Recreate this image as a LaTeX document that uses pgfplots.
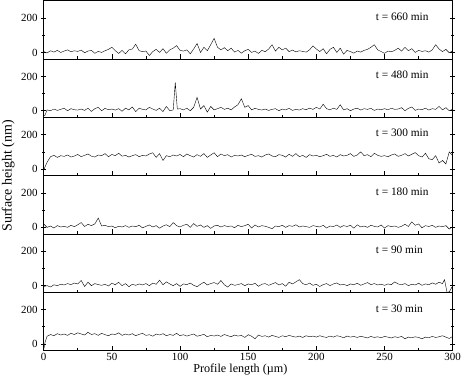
\documentclass[border=0pt]{standalone}
\usepackage{fontspec}
\setmainfont{Liberation Serif}
\usepackage{pgfplots}
\pgfplotsset{compat=1.18}
\usepgfplotslibrary{groupplots}
\usetikzlibrary{calc}
\tikzset{tlabel/.style={anchor=west, font=\fontsize{11.4}{12}\selectfont}}

\begin{document}
\begin{tikzpicture}
\begin{groupplot}[
  group style={group size=1 by 6, vertical sep=0pt, xticklabels at=edge bottom},
  width=409bp, height=58.3bp, scale only axis,
  xmin=0, xmax=300, ymin=-40, ymax=300,
  xtick={0,50,...,300}, minor xtick={25,75,...,275},
  ytick={0,200}, minor ytick={100},
  xtick pos=left, ytick pos=both, yticklabel pos=left,
  xtick align=inside, ytick align=center,
  major tick length=5bp, minor tick length=3bp,
  axis line style={line width=1bp},
  every tick/.style={line width=0.7bp, black},
  tick label style={font=\fontsize{11}{12}\selectfont},
  xticklabel style={yshift=1.5bp},
  /pgf/number format/assume math mode=true,
  cycle list={{black, line width=0.6bp, mark=none}},
]
% t = 660 min
\nextgroupplot
\addplot coordinates {(0,5)(2.5,-3)(5,10)(7.5,2)(10,12)(12.5,0)(15,8)(17.5,15)(20,4)(22.5,10)(25,6)(27.5,14)(30,-2)(32.5,8)(35,12)(37.5,-5)(40,6)(42.5,0)(45,10)(47.5,18)(50,30)(52.5,10)(55,-6)(57.5,12)(60,-8)(62.5,15)(65,20)(67.5,48)(70,10)(72.5,5)(75,8)(77.5,-18)(80,5)(82.5,18)(85,0)(87.5,22)(90,-5)(92.5,15)(95,25)(97.5,40)(100,12)(102.5,8)(105,15)(107.5,-8)(110,20)(112.5,52)(115,0)(117.5,30)(120,10)(122.5,45)(125,82)(127.5,30)(130,15)(132.5,28)(135,10)(137.5,25)(140,2)(142.5,12)(145,-4)(147.5,10)(150,18)(152.5,0)(155,8)(157.5,-6)(160,12)(162.5,4)(165,20)(167.5,45)(170,8)(172.5,30)(175,15)(177.5,25)(180,5)(182.5,14)(185,3)(187.5,10)(190,6)(192.5,2)(195,15)(197.5,38)(200,20)(202.5,5)(205,22)(207.5,-8)(210,18)(212.5,30)(215,0)(217.5,25)(220,-10)(222.5,12)(225,5)(227.5,-4)(230,8)(232.5,2)(235,12)(237.5,18)(240,30)(242.5,45)(245,15)(247.5,5)(250,-5)(252.5,8)(255,4)(257.5,12)(260,25)(262.5,8)(265,30)(267.5,10)(270,22)(272.5,0)(275,12)(277.5,6)(280,10)(282.5,2)(285,15)(287.5,45)(290,20)(292.5,5)(295,18)(297.5,-2)(300,10)};
\node[tlabel] at (241,208) {t = 660 min};
% t = 480 min
\nextgroupplot
\addplot coordinates {(0,-30)(1,-25)(2.5,5)(5,0)(7.5,10)(10,2)(12.5,8)(15,15)(17.5,0)(20,12)(22.5,6)(25,4)(27.5,10)(30,2)(32.5,15)(35,-4)(37.5,12)(40,20)(42.5,0)(45,14)(47.5,6)(50,10)(52.5,4)(55,12)(57.5,-3)(60,15)(62.5,5)(65,22)(67.5,-5)(70,15)(72.5,8)(75,5)(77.5,20)(80,10)(82.5,2)(85,15)(87.5,-5)(90,25)(92.5,0)(95,5)(96.5,165)(98,10)(100,12)(102.5,5)(105,15)(107.5,0)(110,20)(112.5,78)(115,10)(117.5,30)(120,-8)(122.5,25)(125,5)(127.5,12)(130,20)(132.5,8)(135,15)(137.5,5)(140,22)(142.5,35)(145,70)(147.5,20)(150,30)(152.5,5)(155,14)(157.5,8)(160,4)(162.5,10)(165,2)(167.5,8)(170,12)(172.5,0)(175,10)(177.5,5)(180,14)(182.5,2)(185,8)(187.5,4)(190,12)(192.5,6)(195,15)(197.5,8)(200,20)(202.5,10)(205,38)(207.5,12)(210,5)(212.5,15)(215,8)(217.5,35)(220,5)(222.5,12)(225,0)(227.5,10)(230,15)(232.5,4)(235,12)(237.5,8)(240,14)(242.5,2)(245,10)(247.5,6)(250,12)(252.5,5)(255,15)(257.5,8)(260,10)(262.5,18)(265,0)(267.5,14)(270,22)(272.5,2)(275,10)(277.5,6)(280,15)(282.5,4)(285,12)(287.5,8)(290,25)(292.5,5)(295,18)(297.5,0)(300,10)};
\node[tlabel] at (241,212) {t = 480 min};
% t = 300 min
\nextgroupplot
\addplot coordinates {(0,-5)(2.5,40)(5,72)(7.5,80)(10,68)(12.5,78)(15,74)(17.5,82)(20,70)(22.5,76)(25,85)(27.5,72)(30,80)(32.5,88)(35,75)(37.5,70)(40,82)(42.5,78)(45,90)(47.5,72)(50,85)(52.5,78)(55,92)(57.5,75)(60,80)(62.5,70)(65,78)(67.5,84)(70,72)(72.5,80)(75,76)(77.5,88)(80,95)(82.5,68)(85,90)(87.5,50)(90,78)(92.5,72)(95,82)(97.5,76)(100,85)(102.5,72)(105,88)(107.5,78)(110,70)(112.5,84)(115,74)(117.5,90)(120,68)(122.5,82)(125,95)(127.5,72)(130,88)(132.5,78)(135,84)(137.5,70)(140,80)(142.5,76)(145,82)(147.5,72)(150,80)(152.5,86)(155,74)(157.5,78)(160,70)(162.5,82)(165,88)(167.5,76)(170,72)(172.5,84)(175,80)(177.5,70)(180,86)(182.5,74)(185,90)(187.5,72)(190,80)(192.5,68)(195,84)(197.5,76)(200,80)(202.5,72)(205,78)(207.5,86)(210,74)(212.5,80)(215,70)(217.5,84)(220,76)(222.5,80)(225,90)(227.5,74)(230,82)(232.5,100)(235,78)(237.5,84)(240,72)(242.5,92)(245,80)(247.5,74)(250,78)(252.5,72)(255,82)(257.5,88)(260,74)(262.5,80)(265,90)(267.5,76)(270,86)(272.5,96)(275,78)(277.5,70)(280,92)(282.5,60)(285,55)(287.5,78)(290,35)(292.5,50)(295,30)(297.5,100)(300,78)};
\node[tlabel] at (241,212) {t = 300 min};
% t = 180 min
\nextgroupplot
\addplot coordinates {(0,20)(2.5,0)(5,8)(7.5,-4)(10,10)(12.5,2)(15,6)(17.5,0)(20,12)(22.5,4)(25,15)(27.5,28)(30,5)(32.5,18)(35,10)(37.5,20)(40,54)(42.5,8)(45,12)(47.5,4)(50,8)(52.5,-2)(55,6)(57.5,2)(60,10)(62.5,0)(65,8)(67.5,4)(70,12)(72.5,-3)(75,6)(77.5,14)(80,2)(82.5,10)(85,-5)(87.5,8)(90,15)(92.5,4)(95,28)(97.5,10)(100,2)(102.5,12)(105,18)(107.5,0)(110,22)(112.5,6)(115,14)(117.5,0)(120,10)(122.5,-6)(125,8)(127.5,12)(130,2)(132.5,10)(135,5)(137.5,8)(140,-2)(142.5,12)(145,4)(147.5,10)(150,18)(152.5,-4)(155,14)(157.5,2)(160,10)(162.5,6)(165,0)(167.5,-8)(170,8)(172.5,4)(175,12)(177.5,0)(180,10)(182.5,6)(185,15)(187.5,2)(190,8)(192.5,4)(195,0)(197.5,10)(200,6)(202.5,2)(205,12)(207.5,-4)(210,8)(212.5,4)(215,14)(217.5,0)(220,10)(222.5,5)(225,12)(227.5,-5)(230,15)(232.5,2)(235,8)(237.5,0)(240,12)(242.5,6)(245,2)(247.5,14)(250,-4)(252.5,10)(255,4)(257.5,8)(260,0)(262.5,6)(265,18)(267.5,5)(270,32)(272.5,12)(275,20)(277.5,-3)(280,10)(282.5,5)(285,12)(287.5,0)(290,8)(292.5,4)(295,10)(297.5,-10)(300,5)};
\node[tlabel] at (241,208) {t = 180 min};
% t = 90 min
\nextgroupplot
\addplot coordinates {(0,-5)(2.5,0)(5,-8)(7.5,5)(10,0)(12.5,8)(15,4)(17.5,12)(20,6)(22.5,15)(25,10)(27.5,30)(30,-5)(32.5,20)(35,0)(37.5,12)(40,6)(42.5,2)(45,8)(47.5,-2)(50,15)(52.5,5)(55,20)(57.5,0)(60,12)(62.5,-6)(65,8)(67.5,2)(70,10)(72.5,4)(75,12)(77.5,0)(80,15)(82.5,8)(85,32)(87.5,5)(90,22)(92.5,10)(95,0)(97.5,12)(100,-4)(102.5,10)(105,6)(107.5,15)(110,2)(112.5,-6)(115,8)(117.5,20)(120,4)(122.5,12)(125,18)(127.5,8)(130,30)(132.5,5)(135,-8)(137.5,10)(140,2)(142.5,6)(145,12)(147.5,0)(150,10)(152.5,5)(155,14)(157.5,-4)(160,8)(162.5,12)(165,2)(167.5,10)(170,18)(172.5,4)(175,12)(177.5,-3)(180,20)(182.5,10)(185,22)(187.5,35)(190,12)(192.5,5)(195,15)(197.5,2)(200,8)(202.5,-5)(205,6)(207.5,12)(210,0)(212.5,10)(215,16)(217.5,4)(220,8)(222.5,0)(225,10)(227.5,5)(230,14)(232.5,2)(235,10)(237.5,18)(240,6)(242.5,12)(245,4)(247.5,8)(250,2)(252.5,10)(255,6)(257.5,22)(260,10)(262.5,5)(265,12)(267.5,0)(270,8)(272.5,4)(275,14)(277.5,2)(280,10)(282.5,6)(285,16)(287.5,8)(290,20)(292.5,12)(294,35)(296,-45)(298,-30)(300,0)};
\node[tlabel] at (241,208) {t = 90 min};
% t = 30 min
\nextgroupplot
\addplot coordinates {(0,-35)(1,10)(2.5,45)(5,55)(7.5,48)(10,60)(12.5,52)(15,58)(17.5,50)(20,62)(22.5,55)(25,65)(27.5,58)(30,52)(32.5,68)(35,55)(37.5,60)(40,50)(42.5,62)(45,54)(47.5,48)(50,58)(52.5,55)(55,65)(57.5,50)(60,58)(62.5,52)(65,60)(67.5,48)(70,56)(72.5,62)(75,50)(77.5,54)(80,45)(82.5,58)(85,52)(87.5,60)(90,48)(92.5,55)(95,50)(97.5,62)(100,48)(102.5,54)(105,46)(107.5,52)(110,58)(112.5,45)(115,50)(117.5,56)(120,42)(122.5,50)(125,46)(127.5,52)(130,44)(132.5,55)(135,48)(137.5,42)(140,52)(142.5,46)(145,50)(147.5,38)(150,54)(152.5,45)(155,30)(157.5,52)(160,44)(162.5,48)(165,40)(167.5,50)(170,44)(172.5,38)(175,48)(177.5,42)(180,50)(182.5,44)(185,40)(187.5,46)(190,38)(192.5,48)(195,42)(197.5,46)(200,40)(202.5,48)(205,42)(207.5,38)(210,46)(212.5,40)(215,48)(217.5,44)(220,36)(222.5,46)(225,40)(227.5,44)(230,38)(232.5,45)(235,40)(237.5,35)(240,44)(242.5,38)(245,42)(247.5,36)(250,44)(252.5,40)(255,35)(257.5,42)(260,38)(262.5,44)(265,30)(267.5,40)(270,36)(272.5,42)(275,38)(277.5,30)(280,40)(282.5,36)(285,44)(287.5,38)(290,42)(292.5,48)(295,40)(297.5,32)(300,44)};
\node[tlabel] at (241,204) {t = 30 min};
\end{groupplot}
\node[rotate=90, anchor=base, font=\fontsize{14}{16}\selectfont]
  at ($(group c1r3.south west)+(-32bp,0)$) {Surface height (nm)};
\node[anchor=base, font=\fontsize{12.2}{14}\selectfont]
  at ($(group c1r6.south west)+(196.6bp,-21.2bp)$) {Profile length (µm)};
\pgfresetboundingbox
\path[use as bounding box] ($(group c1r1.north west)+(-43.7bp,1bp)$)
  rectangle ($(group c1r6.south east)+(10.3bp,-31.3bp)$);
\end{tikzpicture}
\end{document}
